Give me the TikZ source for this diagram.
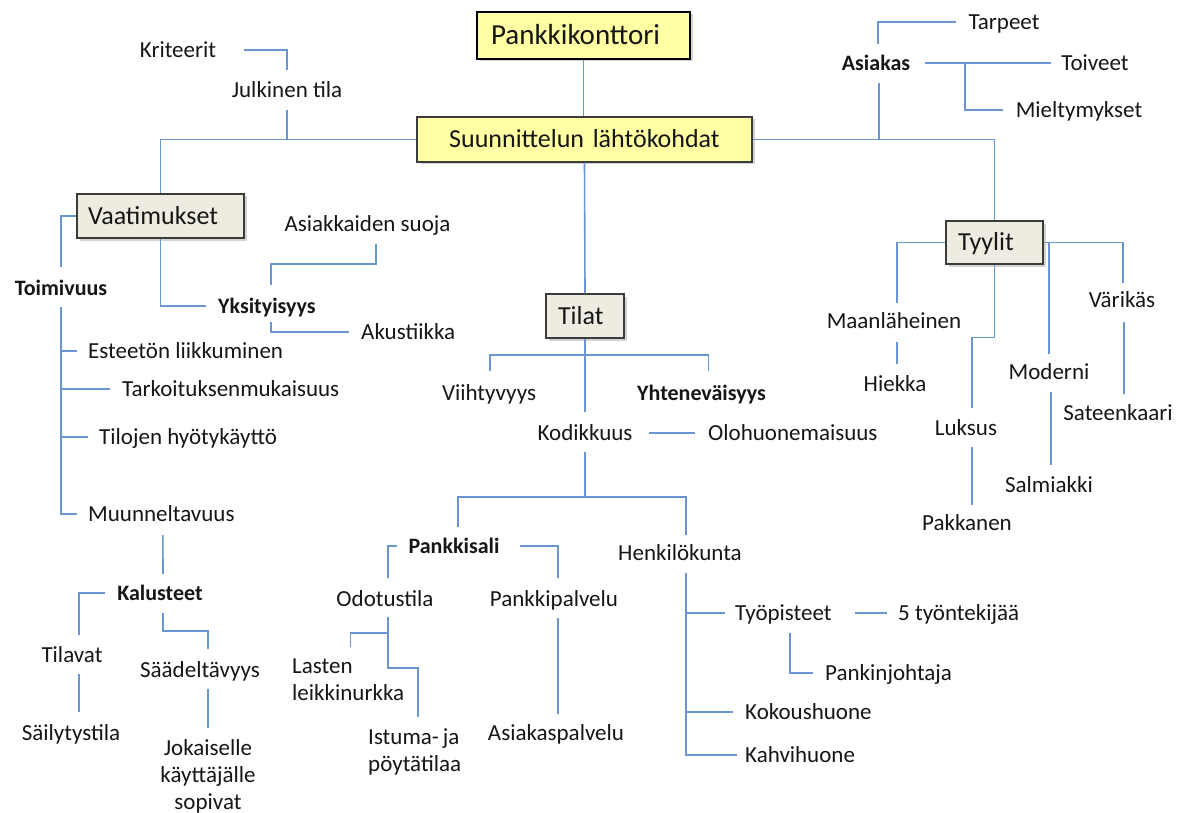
\documentclass[tikz,border=0pt]{standalone}
\usepackage{fontspec}
\setmainfont{Carlito}
\usetikzlibrary{shadows}
\definecolor{linkblue}{HTML}{6A96CF}
\definecolor{noteyellow}{HTML}{FFFFA3}
\definecolor{greybeige}{HTML}{EEECE1}
\definecolor{boxedge}{HTML}{3C3C3C}
\definecolor{inktext}{HTML}{161616}

\begin{document}
\begin{tikzpicture}[x=1pt,y=-1pt,
  link/.style={draw=linkblue,line width=1.6pt},
  lbl/.style={inner sep=0pt,text height=16.5pt,text depth=1.5pt,
    font=\fontsize{23}{27}\selectfont,text=inktext},
  key/.style={lbl,font=\fontsize{22}{27}\selectfont\bfseries},
  multi/.style={inner sep=0pt,font=\fontsize{23}{27}\selectfont,text=inktext},
  topic/.style={draw=boxedge,line width=1.3pt,inner ysep=0pt,
    text height=16.8pt,text depth=0pt,minimum height=44pt,
    font=\fontsize{26}{30}\selectfont,text=inktext,
    drop shadow={shadow xshift=2.5pt,shadow yshift=-2.5pt,opacity=0.35}}
]
\useasboundingbox (0,0) rectangle (1188,813);

% ---- main boxes
\node[topic,fill=noteyellow,draw=black,line width=2pt,minimum height=47pt,
  inner xsep=14pt,text width=185pt,align=left,
  font=\fontsize{29}{34}\selectfont,text height=18.7pt] (pk) at (583.5,35.5) {Pankkikonttori};
\node[topic,fill=noteyellow,inner xsep=30pt,text width=275pt,align=center,
  minimum height=45pt] (sl) at (584.5,139.5) {Suunnittelun lähtökohdat};
\node[topic,fill=greybeige,inner xsep=11pt,text width=145pt,align=left] (vaat) at (160.5,216) {Vaatimukset};
\node[topic,fill=greybeige,inner xsep=12pt,text width=54pt,align=left] (tilat) at (585,316) {Tilat};
\node[topic,fill=greybeige,inner xsep=12pt,text width=73pt,align=left,
  minimum height=43pt] (tyy) at (994.5,242.5) {Tyylit};

% ---- top branches
\node[lbl] (krit) at (178,50) {Kriteerit};
\node[lbl] (jul) at (287,90) {Julkinen tila};
\node[key] (asi) at (876,63) {Asiakas};
\node[lbl] (tarp) at (1004,22) {Tarpeet};
\node[lbl] (toiv) at (1095,63) {Toiveet};
\node[lbl] (miel) at (1079,110) {Mieltymykset};

% ---- Vaatimukset branch
\node[key] (toim) at (61,288) {Toimivuus};
\node[lbl,anchor=west] (est) at (88,351) {Esteetön liikkuminen};
\node[lbl,anchor=west] (tark) at (122,389) {Tarkoituksenmukaisuus};
\node[lbl,anchor=west] (tilo) at (99,437) {Tilojen hyötykäyttö};
\node[lbl,anchor=west] (muun) at (88,514) {Muunneltavuus};
\node[key,anchor=west] (yks) at (218,306) {Yksityisyys};
\node[lbl] (asu) at (367.5,224) {Asiakkaiden suoja};
\node[lbl,anchor=west] (aku) at (361,332) {Akustiikka};
\node[key] (kal) at (160,593) {Kalusteet};
\node[lbl] (tilv) at (72,655) {Tilavat};
\node[lbl] (sail) at (71,733) {Säilytystila};
\node[lbl] (saa) at (200,670) {Säädeltävyys};
% multi-line labels: the base anchor sits on the last line
\node[multi,align=center,anchor=base] (jok) at (208,809.5) {Jokaiselle\\käyttäjälle\\sopivat};

% ---- Tilat branch
\node[lbl] (vii) at (489,393) {Viihtyvyys};
\node[key] (yht) at (701.5,393) {Yhteneväisyys};
\node[lbl] (kod) at (585,433) {Kodikkuus};
\node[lbl,anchor=west] (olo) at (708,433) {Olohuonemaisuus};
\node[key] (pks) at (454,546) {Pankkisali};
\node[lbl] (henk) at (680,553) {Henkilökunta};
\node[lbl] (odo) at (385,599) {Odotustila};
\node[lbl] (pp) at (554,599) {Pankkipalvelu};
\node[lbl] (asp) at (556,733) {Asiakaspalvelu};
\node[multi,align=left,anchor=base west] (las) at (292,700.5) {Lasten\\leikkinurkka};
\node[multi,align=left,anchor=base west] (ist) at (368,771.5) {Istuma-\,ja\\pöytätilaa};
\node[lbl,anchor=west] (tyo) at (735,613) {Työpisteet};
\node[lbl,anchor=west] (tk5) at (898,613) {5 työntekijää};
\node[lbl,anchor=west] (pjo) at (825,673) {Pankinjohtaja};
\node[lbl,anchor=west] (kok) at (745,712) {Kokoushuone};
\node[lbl,anchor=west] (kah) at (745,755) {Kahvihuone};

% ---- Tyylit branch
\node[lbl] (maa) at (894,321) {Maanläheinen};
\node[lbl] (hie) at (895,384) {Hiekka};
\node[lbl] (luk) at (966,428) {Luksus};
\node[lbl] (pak) at (967,523) {Pakkanen};
\node[lbl] (var) at (1122,300) {Värikäs};
\node[lbl] (mod) at (1049,372) {Moderni};
\node[lbl] (sal) at (1049,485) {Salmiakki};
\node[lbl] (sat) at (1118,413) {Sateenkaari};

% ---- junction points
\coordinate (asiJ) at (965,63);
\coordinate (tilJ) at (585,355);
\coordinate (kodJ) at (585,497);
\coordinate (odoJ) at (388,633);
\coordinate (henkT) at (686,0);

% ---- connectors: trunk
\draw[link] (pk.south) -- (pk.south |- sl.north);
\draw[link] (sl.west) -| (vaat.north);
\draw[link] (sl.east) -| (tyy.north);
\draw[link] (sl.south) -- (tilat.north);

% ---- connectors: top
\draw[link] ([xshift=28pt]krit.east) -| ([yshift=11pt]jul.north);
\draw[link] ([yshift=-11pt]jul.south) -- (jul.south |- sl.west);
\draw[link] ([xshift=2pt,yshift=10pt]asi.north) |- ([xshift=-12pt]tarp.west);
\draw[link] ([xshift=15pt]asi.east) -- ([xshift=-10pt]toiv.west);
\draw[link] (asiJ) |- ([xshift=-13pt]miel.west);
\draw[link] ([xshift=3pt,yshift=-11pt]asi.south) -- ++(0,57);

% ---- connectors: Vaatimukset
\draw[link] (vaat.west) -| ([yshift=12pt]toim.north);
\draw[link] ([yshift=-10pt]toim.south) |- ([xshift=-11pt]muun.west);
\draw[link] (toim.south |- est.west) -- ([xshift=-11pt]est.west);
\draw[link] (toim.south |- tark.west) -- ([xshift=-12pt]tark.west);
\draw[link] (toim.south |- tilo.west) -- ([xshift=-11pt]tilo.west);
\draw[link] (vaat.south) |- ([xshift=-12pt]yks.west);
\draw[link] ([xshift=4pt,yshift=12pt]yks.north) -- ++(0,-21) -| ([xshift=8.5pt,yshift=-11pt]asu.south);
\draw[link] ([xshift=4pt,yshift=-7pt]yks.south) |- ([xshift=-12pt]aku.west);
\draw[link] ([xshift=1.5pt,yshift=-12pt]muun.south) -- ([xshift=3pt,yshift=10pt]kal.north);
\draw[link] ([xshift=-12pt]kal.west) -| ([xshift=7pt,yshift=11pt]tilv.north);
\draw[link] ([xshift=7pt,yshift=-10pt]tilv.south) -- ([xshift=8pt,yshift=12pt]sail.north);
\draw[link] ([xshift=3pt,yshift=-11pt]kal.south) -- ++(0,18) -| ([xshift=8pt,yshift=12pt]saa.north);
\draw[link] ([xshift=8pt,yshift=-10pt]saa.south) -- ([yshift=81.5pt]jok.base);

% ---- connectors: Tilat
\draw[link] (tilat.south) -- ([yshift=12pt]kod.north);
\draw[link] ([xshift=1pt,yshift=13pt]vii.north) |- (tilJ) -| ([xshift=7pt,yshift=13pt]yht.north);
\draw[link] ([xshift=16pt]kod.east) -- ([xshift=-13pt]olo.west);
\draw[link] ([yshift=-10pt]kod.south) -- (kodJ);
\draw[link] ([xshift=4pt,yshift=10pt]pks.north) |- (kodJ) -| ([xshift=6pt,yshift=9pt]henk.north);
\draw[link] ([xshift=-11pt]pks.west) -| ([xshift=3pt,yshift=12pt]odo.north);
\draw[link] ([xshift=20pt]pks.east) -| ([xshift=4pt,yshift=12pt]pp.north);
\draw[link] ([xshift=4pt,yshift=-10pt]pp.south) -- ([xshift=2pt,yshift=10pt]asp.north);
\draw[link] ([xshift=3pt,yshift=-9pt]odo.south) -- ++(0,51) -| ([xshift=3.5pt,yshift=54.5pt]ist.base);
\draw[link] (odoJ) -| ([xshift=2.5pt,yshift=53.5pt]las.base);
\draw[link] ([xshift=6pt,yshift=-11pt]henk.south) |- ([xshift=-8pt]kah.west);
\draw[link] (henkT |- tyo.west) -- ([xshift=-10pt]tyo.west);
\draw[link] (henkT |- kok.west) -- ([xshift=-12pt]kok.west);
\draw[link] ([xshift=23pt]tyo.east) -- ([xshift=-11pt]tk5.west);
\draw[link] ([xshift=6.5pt,yshift=-11pt]tyo.south) |- ([xshift=-12pt]pjo.west);

% ---- connectors: Tyylit
\draw[link] (tyy.west) -| ([xshift=3pt,yshift=9pt]maa.north);
\draw[link] ([xshift=3pt,yshift=-12pt]maa.south) -- ([xshift=2pt,yshift=11pt]hie.north);
\draw[link] (tyy.south) -- ++(0,73) -| ([xshift=6pt,yshift=11pt]luk.north);
\draw[link] ([xshift=6pt,yshift=-10pt]luk.south) -- ([xshift=5pt,yshift=9pt]pak.north);
\draw[link] (tyy.east) -| ([xshift=1pt,yshift=8pt]var.north);
\draw[link] (tyy.east -| mod.north) -- ([yshift=9pt]mod.north);
\draw[link] ([xshift=2pt,yshift=-11pt]mod.south) -- ([xshift=2pt,yshift=11pt]sal.north);
\draw[link] ([xshift=2pt,yshift=-13pt]var.south) -- ([xshift=6pt,yshift=10pt]sat.north);
\end{tikzpicture}
\end{document}
